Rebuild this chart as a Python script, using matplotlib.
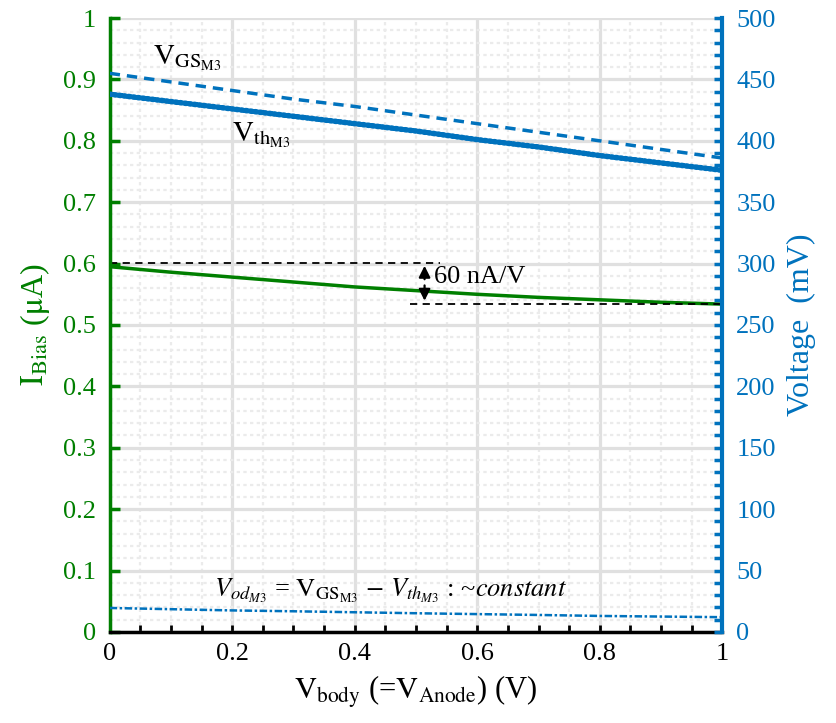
import numpy as np
import matplotlib.pyplot as plt
from matplotlib.ticker import MultipleLocator

plt.rcParams['font.family'] = ['Liberation Serif', 'DejaVu Serif']
plt.rcParams['mathtext.fontset'] = 'stix'

GREEN = '#007f00'
BLUE = '#0072bd'

# data
v_body = [0.0, 0.1, 0.2, 0.3, 0.4, 0.5, 0.6, 0.7, 0.8, 0.9, 1.0]
i_bias = [0.595, 0.586, 0.578, 0.570, 0.562, 0.556, 0.550, 0.545, 0.541, 0.537, 0.534]   # uA
v_gs = [455, 448, 441, 434, 428, 421, 414, 407, 400, 393, 386]   # mV
v_th = [438, 432, 426, 420, 414, 408, 401, 395, 388, 382, 376]   # mV
v_od = [19.5, 18.5, 17.5, 16.8, 16.0, 15.2, 14.5, 13.8, 13.0, 12.5, 12.0]  # mV

fig, ax = plt.subplots(figsize=(8.37, 7.23), dpi=100)
fig.subplots_adjust(left=0.131, right=0.863, top=0.975, bottom=0.126)
ax2 = ax.twinx()

ax.set_xlim(0, 1)
ax.set_ylim(0, 1)
ax2.set_ylim(0, 500)

# grid
ax.xaxis.set_major_locator(MultipleLocator(0.2))
ax.xaxis.set_minor_locator(MultipleLocator(0.05))
ax.yaxis.set_major_locator(MultipleLocator(0.1))
ax.yaxis.set_minor_locator(MultipleLocator(0.02))
ax2.yaxis.set_major_locator(MultipleLocator(50))
ax2.yaxis.set_minor_locator(MultipleLocator(10))
ax.grid(which='major', color='#e0e0e0', lw=2.3)
ax.grid(which='minor', color='#ebebeb', lw=1.6, ls=(0, (1.5, 1.5)))
ax.set_axisbelow(True)

# lines
ax.plot(v_body, i_bias, color=GREEN, lw=2.5)
ax2.plot(v_body, v_gs, color=BLUE, lw=2.5, ls=(0, (3, 2)))
ax2.plot(v_body, v_th, color=BLUE, lw=4, ls=(0, (0.3, 0.55)), dash_capstyle='round')
ax2.plot(v_body, v_od, color=BLUE, lw=1.8, ls=(0, (3, 1, 1, 1)))

# 60 nA/V annotation
ax.plot([0.0, 0.54], [0.601, 0.601], color='black', lw=1.3, ls=(0, (4, 3)))
ax.plot([0.49, 1.0], [0.534, 0.534], color='black', lw=1.3, ls=(0, (4, 3)))
ax.annotate('', xy=(0.514, 0.601), xytext=(0.514, 0.570),
            arrowprops=dict(arrowstyle='-|>', color='black', lw=1.6, mutation_scale=17))
ax.annotate('', xy=(0.514, 0.535), xytext=(0.514, 0.569),
            arrowprops=dict(arrowstyle='-|>', color='black', lw=1.6, mutation_scale=17))
ax.text(0.53, 0.578, '60 nA/V', fontsize=19, va='center', ha='left')

# curve labels
ax.text(0.07, 0.935, r'$\mathrm{V_{GS_{M3}}}$', fontsize=21, va='center')
ax.text(0.2, 0.81, r'$\mathrm{V_{th_{M3}}}$', fontsize=21, va='center')
ax.text(0.17, 0.067,
        r'$V_{od_{M3}}$ = $\mathrm{V_{GS_{M3}}}$ $-$ $V_{th_{M3}}$ : ~$constant$',
        fontsize=19, va='center')

# spines
ax.spines['top'].set_visible(False)
ax2.spines['top'].set_visible(False)
ax.spines['left'].set_color(GREEN)
ax.spines['left'].set_linewidth(2.5)
ax2.spines['left'].set_visible(False)
ax2.spines['right'].set_color(BLUE)
ax2.spines['right'].set_linewidth(3)
ax.spines['right'].set_visible(False)
ax.spines['bottom'].set_linewidth(2.5)
ax2.spines['bottom'].set_visible(False)

# ticks
ax.tick_params(axis='x', which='both', direction='in', length=5, width=2, colors='black',
               labelsize=19, pad=8)
ax.tick_params(axis='y', which='major', direction='in', length=7, width=2.5, colors=GREEN,
               labelsize=19, pad=10)
ax.tick_params(axis='y', which='minor', length=0)
ax2.tick_params(axis='y', which='both', direction='in', length=6, width=2.5, colors=BLUE,
                labelsize=19, pad=10)
ax.set_xticks([0, 0.2, 0.4, 0.6, 0.8, 1.0])
ax.set_xticklabels(['0', '0.2', '0.4', '0.6', '0.8', '1'])
ax.set_yticks(np.arange(0, 1.01, 0.1))
ax.set_yticklabels(['0', '0.1', '0.2', '0.3', '0.4', '0.5', '0.6', '0.7', '0.8', '0.9', '1'])

ax.set_xlabel(r'$\mathrm{V_{body}}$ (=$\mathrm{V_{Anode}}$) (V)', fontsize=22, labelpad=6)
ax.set_ylabel(r'$\mathrm{I_{Bias}}$ ($\mathrm{\mu}$A)', fontsize=23, color=GREEN, labelpad=8)
ax2.set_ylabel('Voltage  (mV)', fontsize=23, color=BLUE, labelpad=8)

fig.savefig('out.png', dpi=100)
